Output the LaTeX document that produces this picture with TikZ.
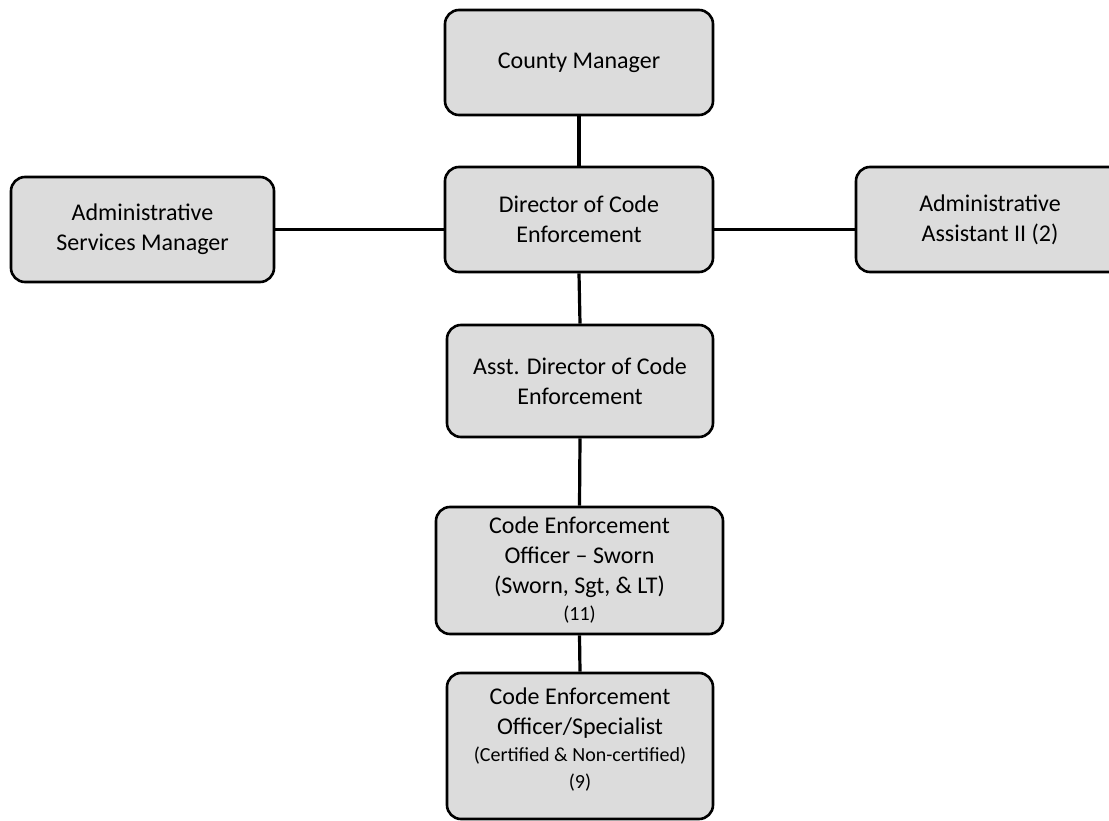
\documentclass[tikz,border=0pt]{standalone}
\usepackage{fontspec}
\setmainfont{Carlito}
\definecolor{boxgray}{HTML}{DCDCDC}
\newcommand{\smallline}{\fontsize{20}{27}\selectfont}
\begin{document}
\begin{tikzpicture}[x=1pt,y=-1pt,
  box/.style={draw=black, line width=2.6pt, rounded corners=14pt, fill=boxgray,
    align=flush center, text width=256pt, inner sep=0pt,
    font=\fontsize{24}{30}\selectfont},
  link/.style={line width=3.2pt}]
  \useasboundingbox (0,0) rectangle (1109,821);
  \clip (0,0) rectangle (1109,821);

  % top of the chart
  \node[box, minimum width=268pt, minimum height=105pt] (cm) at (579,62.5) {County Manager};
  \node[box, minimum width=268pt, minimum height=105pt] (dir) at (579,219.5)
    {Director of Code\\Enforcement};

  % staff on either side of the director
  \node[box, minimum width=263pt, minimum height=105pt] (asm) at (142.5,229.5)
    {Administrative\\Services Manager};
  \node[box, minimum width=268pt, minimum height=105pt] (aa) at (990,219.5)
    {Administrative\\Assistant II (2)};

  % line of command below the director
  \node[box, minimum width=266pt, minimum height=112pt] (adir) at (580,381)
    {Asst. Director of Code\\Enforcement};
  \node[box, minimum width=287pt, minimum height=127pt] (ceos) at (579.5,570.5)
    {Code Enforcement\\Officer – Sworn\\(Sworn, Sgt, \& LT)\par
     {\smallline (11)\par}};
  \node[box, minimum width=266pt, minimum height=146pt] (ceo) at (580,746)
    {Code Enforcement\\Officer/Specialist\par
     {\smallline (Certified \& Non-certified)\\(9)\par}\vspace*{12pt}\hrule height 0pt};

  % connectors
  \draw[link] (cm.south) -- (dir.north);
  \draw[link] (asm.east) -- (asm.east -| dir.west);
  \draw[link] (dir.east |- asm.east) -- (asm.east -| aa.west);
  \draw[link] (dir.south) -- (adir.north);
  \draw[link] (adir.south) -- (ceos.north);
  \draw[link] (ceos.south) -- (ceo.north);
\end{tikzpicture}
\end{document}
